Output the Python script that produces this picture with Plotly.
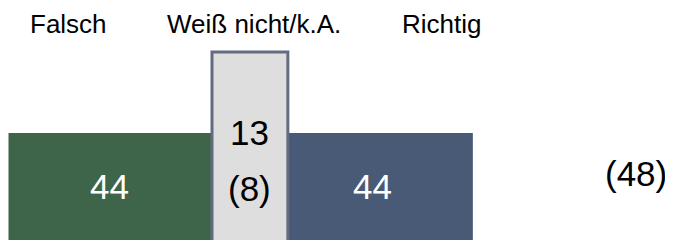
import plotly.graph_objects as go

# ---- data ----
categories = ["Falsch", "Weiß nicht/k.A.", "Richtig"]
values = [44, 13, 44]              # printed percentages
bar_lengths = [44, 16.4, 40]       # segment extents
sub_value = 8                      # value in brackets under the middle segment
total_n = 48                       # bracketed figure at the right

# ---- style ----
fill_colors = ["#3e6449", "#dedede", "#485a76"]
line_colors = ["#3e6449", "#636b80", "#485a76"]
text_colors = ["white", "black", "white"]
FONT = "Arial, Liberation Sans, sans-serif"

W, H = 673, 240
OFF = 8  # page body margin of the browser
px_per_unit = (212 - 8.5) / bar_lengths[0]
x0 = -(8.5 - OFF) / px_per_unit
x1 = x0 + W / px_per_unit


def xd(page_px):
    return (page_px - OFF) / px_per_unit + x0


def yd(page_py):
    return H + OFF - page_py


thickness = [2 * yd(133), 2 * yd(52), 2 * yd(133)]

fig = go.Figure()
bases = []
acc = 0
for L in bar_lengths:
    bases.append(acc)
    acc += L

order = [0, 2, 1]  # draw middle segment last so its outline sits on top
for i in order:
    fig.add_trace(go.Bar(
        orientation="h",
        y=[0], x=[bar_lengths[i]], base=[bases[i]],
        width=[thickness[i]],
        marker=dict(color=fill_colors[i],
                    line=dict(color=line_colors[i], width=3 if i == 1 else 0)),
        name=categories[i], showlegend=False, hoverinfo="skip",
    ))

# value labels
label_y = [yd(186), yd(132), yd(186)]
label_shift = [-1, 0, -8]
for i in range(3):
    fig.add_annotation(x=bases[i] + bar_lengths[i] / 2, y=label_y[i],
                       text=str(values[i]), showarrow=False, xshift=label_shift[i],
                       font=dict(family=FONT, size=35, color=text_colors[i]))
fig.add_annotation(x=bases[1] + bar_lengths[1] / 2, y=yd(188),
                   text=f"({sub_value})", showarrow=False,
                   font=dict(family=FONT, size=35, color="black"))
fig.add_annotation(x=xd(636), y=yd(173), text=f"({total_n})",
                   showarrow=False,
                   font=dict(family=FONT, size=35, color="black"))

# header labels
header_px = [68.5, 254, 441]
for name, px in zip(categories, header_px):
    fig.add_annotation(x=xd(px), y=yd(24), text=name, showarrow=False,
                       font=dict(family=FONT, size=26, color="black"))

fig.update_layout(
    width=W, height=H,
    margin=dict(l=0, r=0, t=0, b=0),
    paper_bgcolor="white", plot_bgcolor="white",
    barmode="overlay",
    xaxis=dict(range=[x0, x1], visible=False, fixedrange=True),
    yaxis=dict(range=[0, H], visible=False, fixedrange=True),
)
fig.write_html("out.html")
